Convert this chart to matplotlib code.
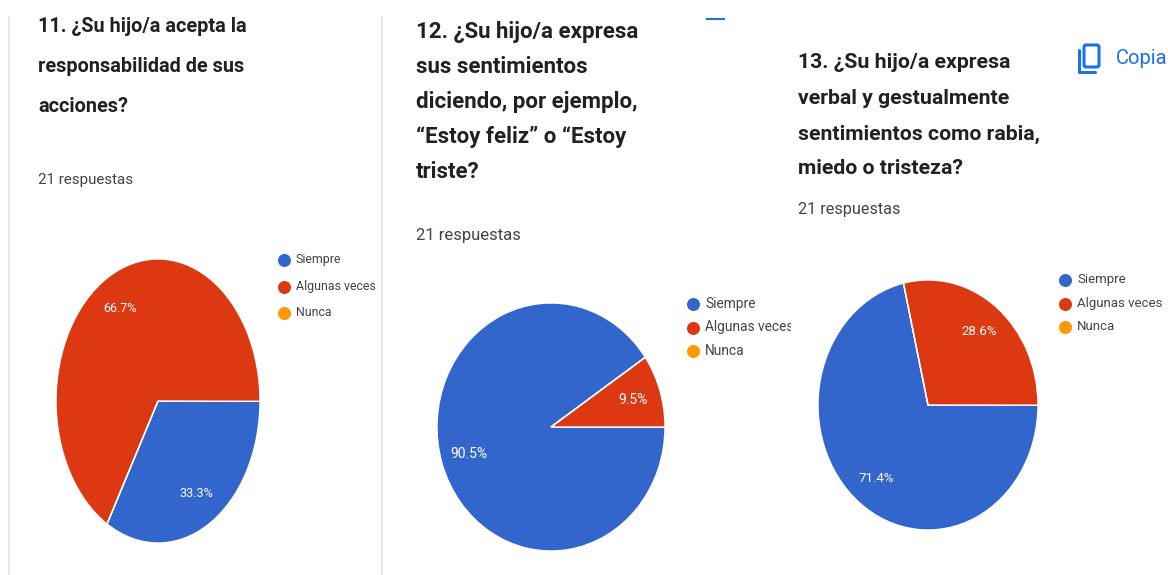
#!/usr/bin/env python3

import matplotlib
matplotlib.use("Agg")
import matplotlib.pyplot as plt
from matplotlib.patches import FancyBboxPatch, Rectangle

plt.rcParams["font.family"] = ["Roboto", "DejaVu Sans"]

W, H = 1168, 575
COLORS = ["#3366cc", "#dc3912", "#ff9900"]
LEGEND = ["Siempre", "Algunas veces", "Nunca"]
ANSWERS = "21 respuestas"

titles_11 = ["11. ¿Su hijo/a acepta la", "responsabilidad de sus", "acciones?"]
titles_12 = ["12. ¿Su hijo/a expresa", "sus sentimientos", "diciendo, por ejemplo,",
             "“Estoy feliz” o “Estoy", "triste?"]
titles_13 = ["13. ¿Su hijo/a expresa", "verbal y gestualmente",
             "sentimientos como rabia,", "miedo o tristeza?"]

values_11 = [33.3, 66.7, 0]
values_12 = [90.5, 9.5, 0]
values_13 = [71.4, 28.6, 0]


def fmt_pct(p):
    return f"{p:.1f}%" if p > 0 else ""


def draw_pie(fig, values, center, rx, ry, start, fs):
    ax = fig.add_axes([(center[0] - rx) / W, 1 - (center[1] + ry) / H, 2 * rx / W, 2 * ry / H])
    ax.pie(values, colors=COLORS, startangle=start, radius=1, autopct=fmt_pct,
           pctdistance=.75, wedgeprops={"edgecolor": "white", "linewidth": 1},
           textprops={"color": "white", "fontsize": fs})
    ax.set_aspect("auto")
    ax.set(xlim=(-1, 1), ylim=(-1, 1))
    return ax


def draw_legend(ax, x, y, step, fs, clip_x=None):
    for i, name in enumerate(LEGEND):
        ax.scatter([x], [y + i * step], s=88, color=COLORS[i], linewidths=0)
        t = ax.text(x + 12, y + i * step, name, fontsize=fs, color="#444444",
                    va="center", ha="left")
        if clip_x is not None:
            t.set_clip_path(Rectangle((0, 0), clip_x, H, transform=ax.transData))
            t.set_clip_on(True)


def draw_block(ax, lines, x, ys, answers_y, fs, fs2):
    for line, y in zip(lines, ys):
        ax.text(x, y, line, fontsize=fs, fontweight="bold", color="#202124",
                va="center", ha="left")
    ax.text(x, answers_y, ANSWERS, fontsize=fs2, color="#444444", va="center", ha="left")


fig = plt.figure(figsize=(W / 100, H / 100), dpi=100, facecolor="white")

draw_pie(fig, values_11, (158, 401), 102, 142, 240, 9)
draw_pie(fig, values_12, (551, 427), 114, 124, 34.2, 10)
draw_pie(fig, values_13, (928, 405), 110, 125, 102.9, 9.5)

ax = fig.add_axes([0, 0, 1, 1], zorder=-1)
ax.set(xlim=(0, W), ylim=(H, 0))
ax.set_axis_off()

# card edges
ax.plot([9, 9], [17, 575], color="#e3e3e3", lw=1.2)
ax.plot([382, 382], [17, 575], color="#e3e3e3", lw=1.2)
ax.plot([707, 724], [18.5, 18.5], color="#1a73e8", lw=1.5)

draw_block(ax, titles_11, 38, [27, 67, 107], 180, 14.3, 10.9)
draw_block(ax, titles_12, 416, [32, 67, 102, 137, 172], 235.5, 16, 12)
draw_block(ax, titles_13, 798, [62, 98, 134, 169], 209.5, 15.3, 11.7)

draw_legend(ax, 284, 260, 26.5, 8.9)
draw_legend(ax, 693, 304, 23.5, 9.9, clip_x=791)
draw_legend(ax, 1065, 280, 23.5, 9.5)

# copy icon
ax.add_patch(FancyBboxPatch((1084, 45), 15, 22, boxstyle="round,pad=0,rounding_size=2",
                            fc="none", ec="#1a73e8", lw=2.2))
ax.plot([1079, 1079, 1095], [50, 72, 72], color="#1a73e8", lw=2.2, solid_capstyle="round")
ax.text(1116, 58, "Copia", fontsize=14.5, color="#1a73e8", va="center", ha="left")

fig.savefig("out.png", dpi=100, facecolor="white")
